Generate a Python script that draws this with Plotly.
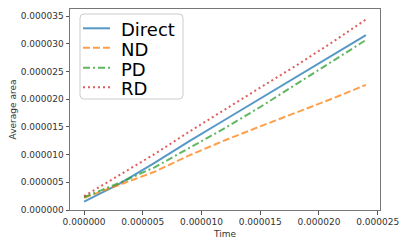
import plotly.graph_objects as go

# Data (time and average area)
time = [0, 3e-6, 6e-6, 9e-6, 12e-6, 15e-6, 18e-6, 21e-6, 24e-6]
direct = [1.5e-6, 4.7e-6, 8.5e-6, 12.5e-6, 16.3e-6, 20.1e-6, 24.0e-6, 27.8e-6, 31.6e-6]
nd = [2.2e-6, 4.5e-6, 6.9e-6, 9.9e-6, 12.6e-6, 15.1e-6, 17.5e-6, 20.0e-6, 22.6e-6]
pd_ = [2.3e-6, 4.9e-6, 7.7e-6, 11.2e-6, 14.8e-6, 18.6e-6, 22.6e-6, 26.6e-6, 30.7e-6]
rd = [2.5e-6, 6.3e-6, 10.1e-6, 14.2e-6, 18.2e-6, 22.1e-6, 26.0e-6, 30.1e-6, 34.4e-6]
names = ["Direct", "ND", "PD", "RD"]
colors = ["#1f77b4", "#ff7f0e", "#2ca02c", "#d62728"]
dashes = ["solid", "7px,3px", "7px,3px,2px,3px", "2px,3px"]
x_ticks = [0, 5e-6, 10e-6, 15e-6, 20e-6, 25e-6]
y_ticks = [0, 5e-6, 10e-6, 15e-6, 20e-6, 25e-6, 30e-6, 35e-6]

fig = go.Figure()
for name, ys, c, d in zip(names, [direct, nd, pd_, rd], colors, dashes):
    fig.add_trace(go.Scatter(x=time, y=ys, mode="lines", name=name, opacity=0.75,
                             line=dict(color=c, width=2, dash=d), showlegend=False))

axis_common = dict(showgrid=False, zeroline=False, showline=True, mirror=True,
                   linecolor="#777", linewidth=1, ticks="outside", ticklen=3.5,
                   tickcolor="#555", tickformat=".6f",
                   tickfont=dict(family="DejaVu Sans", size=9, color="#333"))

# page offset of 8px (default body margin) -> figure is 399x238
W, H = 399, 238
L, R, T, B = 62, 27, 1, 36
pw, ph = W - L - R, H - T - B

def px(x):  # page x pixel -> paper
    return (x - 8 - L) / pw

def py(y):  # page y pixel -> paper
    return (H - B - (y - 8)) / ph

# Manual legend (matplotlib style)
x0, x1, y1, y0 = px(80), px(183), py(14), py(99)
rx, ry = 4 / pw, 4 / ph
path = (f"M {x0+rx},{y1} L {x1-rx},{y1} Q {x1},{y1} {x1},{y1-ry} L {x1},{y0+ry} "
        f"Q {x1},{y0} {x1-rx},{y0} L {x0+rx},{y0} Q {x0},{y0} {x0},{y0+ry} "
        f"L {x0},{y1-ry} Q {x0},{y1} {x0+rx},{y1} Z")
shapes = [dict(type="path", path=path, xref="paper", yref="paper",
               fillcolor="rgba(255,255,255,0.8)", line=dict(color="#ccc", width=1))]
annotations = []
row_y = [28.3, 47.7, 67.7, 87.3]
for name, c, d, ry_ in zip(names, colors, dashes, row_y):
    shapes.append(dict(type="line", xref="paper", yref="paper",
                       x0=px(83), x1=px(110), y0=py(ry_), y1=py(ry_), opacity=0.75,
                       line=dict(color=c, width=2, dash=d)))
    annotations.append(dict(text=name, xref="paper", yref="paper", x=px(119), y=py(ry_ + 1.5),
                            xanchor="left", yanchor="middle", showarrow=False,
                            font=dict(family="DejaVu Sans", size=18, color="black")))

fig.update_layout(
    width=W, height=H,
    margin=dict(l=L, r=R, t=T, b=B, autoexpand=False),
    paper_bgcolor="white", plot_bgcolor="white",
    xaxis=dict(range=[-1.2e-6, 25.2e-6], tickvals=x_ticks,
               title=dict(text="Time", font=dict(family="DejaVu Sans", size=9, color="#333"), standoff=4),
               **axis_common),
    yaxis=dict(range=[0, 3.63e-5], tickvals=y_ticks,
               title=dict(text="Average area", font=dict(family="DejaVu Sans", size=9, color="#333"), standoff=5),
               **axis_common),
    shapes=shapes, annotations=annotations,
    showlegend=False,
)

fig.write_html("out.html")
